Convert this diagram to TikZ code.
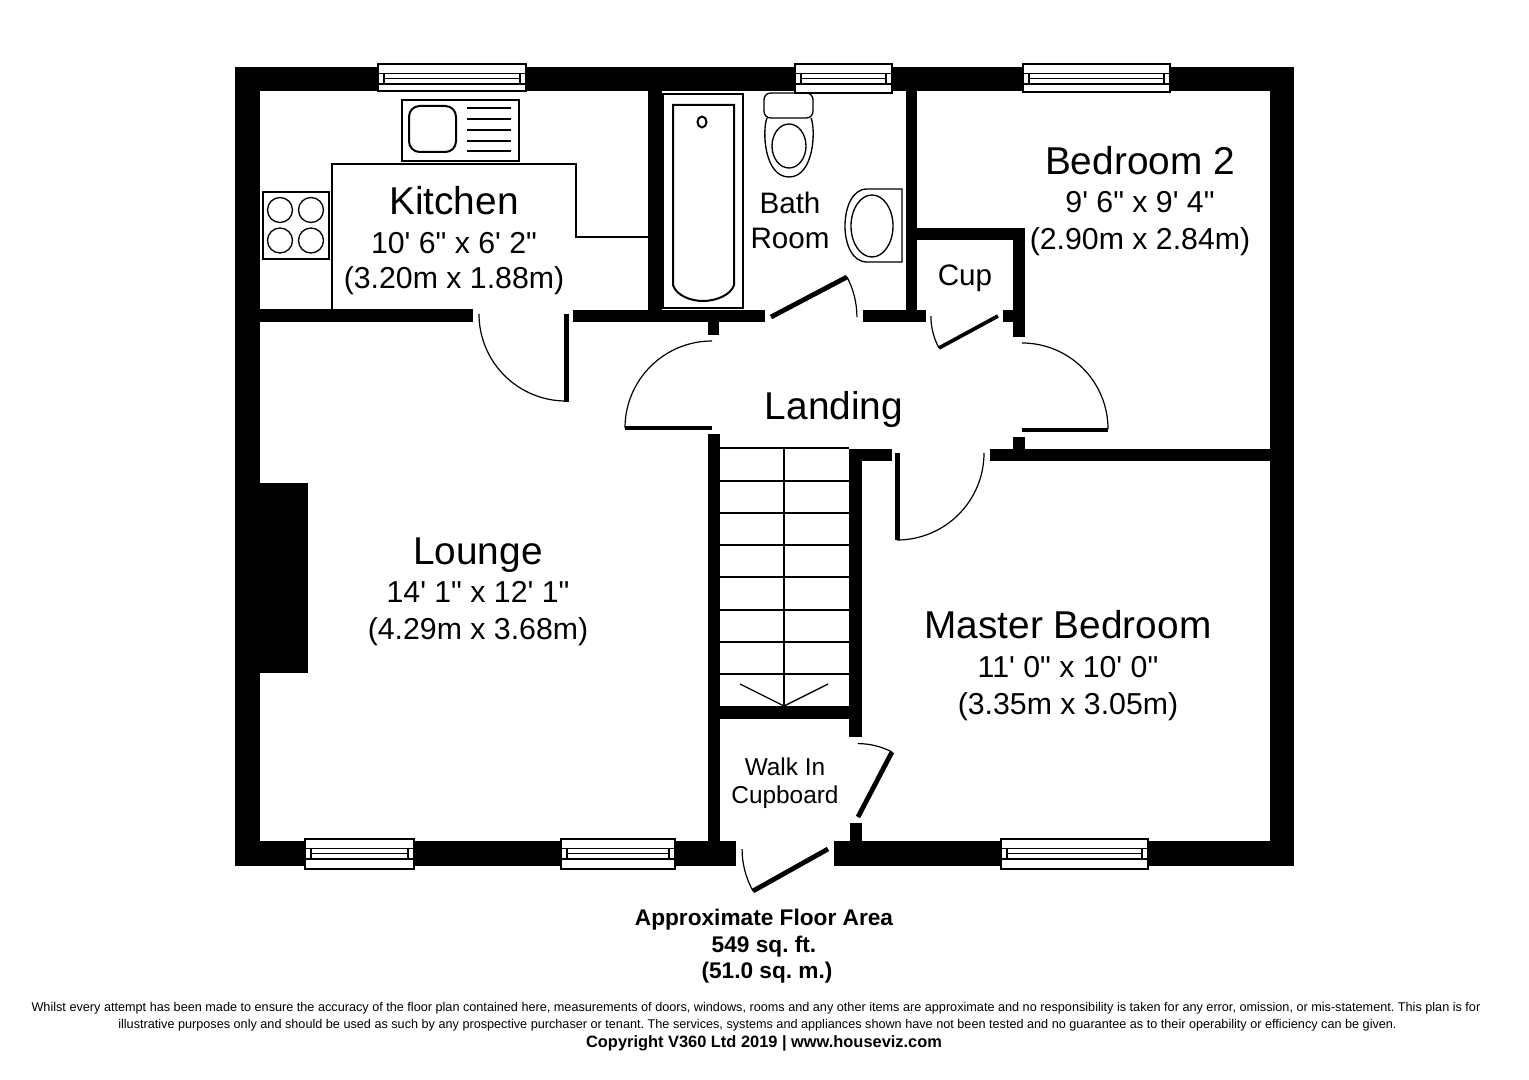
\documentclass[tikz,border=0pt]{standalone}
\usepackage{fontspec}
\setmainfont{Liberation Sans}
\newfontfamily\sizefont{Liberation Sans}
\begin{document}
\frenchspacing
\begin{tikzpicture}[
          x=0.75pt, y=-0.75pt,
          wall/.style={fill=black},
          fixture/.style={draw=black, line width=1.5pt},
          thinline/.style={draw=black, line width=1pt},
          leaf/.style={draw=black, line width=3.6pt},
          swing/.style={draw=black, line width=0.9pt},
          room/.style={font=\fontsize{29.1}{29.1}\selectfont, inner sep=0pt},
          size/.style={font=\sizefont\fontsize{22.7}{22.7}\selectfont, inner sep=0pt},
          smallroom/.style={font=\fontsize{22.2}{22.2}\selectfont, inner sep=0pt},
          cupboard/.style={font=\fontsize{18.3}{18.3}\selectfont, inner sep=0pt},
          area/.style={font=\fontsize{17}{17}\selectfont\bfseries, inner sep=0pt},
          notice/.style={font=\fontsize{9.5}{9.5}\selectfont, inner sep=0pt},
          ]

          \useasboundingbox (0,0) rectangle (1529,1080);
          \fill[white] (0,0) rectangle (1529,1080);

          \foreach \xa/\ya/\xb/\yb in {
              235/67/1294/91, 235/67/260/866, 1270/67/1294/866,
              235/841/736/866, 834/841/1294/866,
              260/309/473/322, 573/310/765/322, 648/91/662/322,
              708/322/719/335, 863/310/926/322, 906/91/917/322,
              917/228/1025/240, 1013/228/1025/337, 1003/310/1013/322,
              708/434/720/841, 849/449/862/737, 849/449/892/461,
              720/706/849/719, 990/449/1270/461, 1013/437/1025/449,
              850/823/862/841, 260/483/308/673}
            \fill[wall] (\xa,\ya) rectangle (\xb,\yb);

          \foreach \xa/\xb/\ya/\yb in {
              378/526/64/91, 795/892/64/93, 1023/1170/64/92,
              305/414/839/869, 561/675/839/869, 1001/1148/839/869} {
            \filldraw[thinline, fill=white] (\xa,\ya) rectangle (\xb,\yb);
            \draw[thinline] (\xa,\ya+9.5) -- (\xb,\ya+9.5);
            \draw[thinline] (\xa,\ya+20) -- (\xb,\ya+20);
            \draw[thinline] (\xa+6,\ya+14.5) -- (\xb-6,\ya+14.5);
            \draw[thinline] (\xa+6,\ya+9.5) -- (\xa+6,\ya+20);
            \draw[thinline] (\xb-6,\ya+9.5) -- (\xb-6,\ya+20);
          }

          \draw[thinline] (332,309) -- (332,164) -- (576,164) -- (576,237) -- (648,237);

          \draw[fixture] (402,100) rectangle (519,161);
          \draw[fixture, rounded corners=8pt] (409,106) rectangle (456,152);
          \foreach \y in {108,119,130,141,151.5}
            \draw[fixture] (467,\y) -- (511,\y);

          \draw[thinline] (263,192) rectangle (329,259);
          \foreach \x in {280,311}
            \foreach \y in {210,240.5}
              \draw[thinline] (\x,\y) circle[radius=12.5];

          \draw[thinline] (663,94) rectangle (743,308);
          \draw[fixture] (673,105) -- (734,105) -- (734,285)
            .. controls (731,295) and (716,301) .. (703,301)
            .. controls (690,301) and (676,295) .. (673,285) -- cycle;
          \draw[fixture] (702,122) ellipse[x radius=4.5, y radius=5.5];

          \draw[thinline, rounded corners=5pt] (764,93) rectangle (813,118);
          \draw[thinline] (767,118) .. controls (762,130) and (764,177) .. (789,177)
            .. controls (814,177) and (816,130) .. (811,118);
          \draw[thinline] (789,146) ellipse[x radius=17, y radius=22];

          \draw[thinline] (902,189) -- (867,189)
            .. controls (852,189) and (845,208) .. (845,226)
            .. controls (845,244) and (852,262) .. (867,262) -- (902,262) -- cycle;
          \draw[thinline] (872,226) ellipse[x radius=21, y radius=31];

          \draw[thinline] (720,448) -- (849,448);
          \foreach \y in {481,513,545,577,610,642,674}
            \draw[thinline] (720,\y) -- (849,\y);
          \draw[thinline] (784,448) -- (784,706);
          \draw[thinline] (740,684) -- (784,706) -- (828,684);

          \draw[leaf] (566.5,314) -- (566.5,402);
          \draw[swing] (479,314) arc[start angle=180, end angle=90, radius=87];

          \draw[leaf] (771,317) -- (847,277);
          \draw[swing] (847,277) arc[start angle=-27.8, end angle=0, radius=86];

          \draw[leaf, line width=2.8pt] (998,316) -- (939,348);
          \draw[swing] (939,348) arc[start angle=151.5, end angle=180, radius=67];

          \draw[leaf] (625,428) -- (712,428);
          \draw[swing] (712,341) arc[start angle=-90, end angle=-180, radius=87];

          \draw[leaf] (1022,430) -- (1108,430);
          \draw[swing] (1022,343) arc[start angle=-90, end angle=0, radius=86];

          \draw[leaf] (897.5,453) -- (897.5,540);
          \draw[swing] (897,540) arc[start angle=90, end angle=0, radius=87];

          \draw[leaf] (858,817) -- (892,752);
          \draw[swing] (892,752) arc[start angle=-62.4, end angle=-90, radius=74];

          \draw[leaf] (828,849) -- (753,891);
          \draw[swing] (753,891) arc[start angle=150.8, end angle=180, radius=86];

          \node[room] (kitchen) at (454,201) {Kitchen};
          \node[size] (kitchenfeet) at (454,243) {10' 6" x 6' 2"};
          \node[size] (kitchenmetres) at (454,281) {(3.20m x 1.88m)};

          \node[room] (bedroomtwo) at (1140,161) {Bedroom 2};
          \node[size] (bedroomtwofeet) at (1140,202) {9' 6" x 9' 4"};
          \node[size] (bedroomtwometres) at (1140,242) {(2.90m x 2.84m)};

          \node[room] (lounge) at (478,555) {Lounge};
          \node[size] (loungefeet) at (478,592) {14' 1" x 12' 1"};
          \node[size] (loungemetres) at (478,632) {(4.29m x 3.68m)};

          \node[room] (master) at (1068,625) {Master Bedroom};
          \node[size] (masterfeet) at (1068,667) {11' 0" x 10' 0"};
          \node[size] (mastermetres) at (1068,707) {(3.35m x 3.05m)};

          \node[room] (landing) at (834,409) {Landing};
          \node[smallroom] (bath) at (790,203) {Bath};
          \node[smallroom] (bathroom) at (790,238) {Room};
          \node[smallroom] (cup) at (965,278) {Cup};
          \node[cupboard] (walkin) at (785,767) {Walk In};
          \node[cupboard] (walkcupboard) at (785,797) {Cupboard};

          \node[area] (floorarea) at (764,920) {Approximate Floor Area};
          \node[area] (floorfeet) at (764,947) {549 sq. ft.};
          \node[area] (floormetres) at (767,973) {(51.0 sq. m.)};

          \node[notice] (noticeone) at (756,1008) {Whilst every attempt has been made to ensure the accuracy of the floor plan contained here, measurements of doors, windows, rooms and any other items are approximate and no responsibility is taken for any error, omission, or mis-statement. This plan is for};
          \node[notice] (noticetwo) at (757.5,1025) {illustrative purposes only and should be used as such by any prospective purchaser or tenant. The services, systems and appliances shown have not been tested and no guarantee as to their operability or efficiency can be given.};
          \node[notice, font=\fontsize{12.3}{12.3}\selectfont\bfseries] (copyright) at (764,1043) {Copyright V360 Ltd 2019 | www.houseviz.com};

        \end{tikzpicture}
\end{document}
